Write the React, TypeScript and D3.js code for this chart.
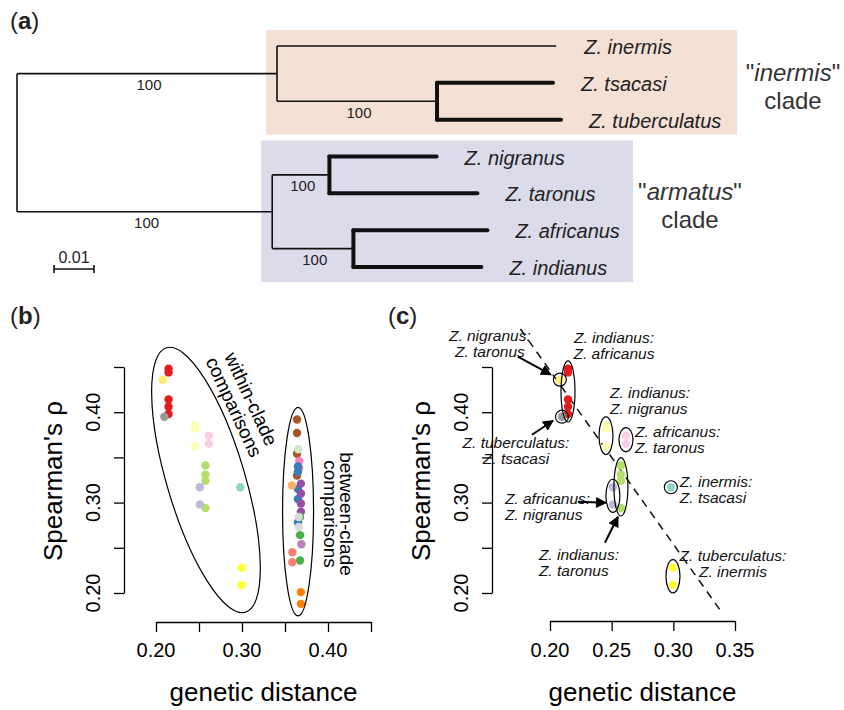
import React, { useEffect, useRef } from 'react';
import * as d3 from 'd3';

const FONT = '"Liberation Sans", Arial, Helvetica, sans-serif';

// ---------- (a) phylogeny, branch lengths read against the 0.01 scale bar ----------
const taxa = ['Z. inermis', 'Z. tsacasi', 'Z. tuberculatus', 'Z. nigranus', 'Z. taronus', 'Z. africanus', 'Z. indianus'];

const tree: any = {
  len: 0,
  children: [
    {
      len: 0.065, support: 100, children: [
        { len: 0.0698, name: 'Z. inermis' },
        { len: 0.040, support: 100, children: [{ len: 0.029, name: 'Z. tsacasi' }, { len: 0.031, name: 'Z. tuberculatus' }] },
      ],
    },
    {
      len: 0.0638, support: 100, children: [
        { len: 0.0143, support: 100, children: [{ len: 0.0268, name: 'Z. nigranus' }, { len: 0.037, name: 'Z. taronus' }] },
        { len: 0.0203, support: 100, children: [{ len: 0.0335, name: 'Z. africanus' }, { len: 0.032, name: 'Z. indianus' }] },
      ],
    },
  ],
};

const cladeNames = ['inermis', 'armatus'];
const cladeFills = ['#f5e0d6', '#dcdbea'];

// ---------- (b)/(c) within-clade comparisons ----------
const withinPairs = [
  ['Z. nigranus:', 'Z. taronus'],
  ['Z. indianus:', 'Z. africanus'],
  ['Z. tuberculatus:', 'Z. tsacasi'],
  ['Z. indianus:', 'Z. nigranus'],
  ['Z. africanus:', 'Z. taronus'],
  ['Z. indianus:', 'Z. taronus'],
  ['Z. africanus:', 'Z. nigranus'],
  ['Z. inermis:', 'Z. tsacasi'],
  ['Z. tuberculatus:', 'Z. inermis'],
];
const withinDist = [0.208, 0.2146, 0.2097, 0.2454, 0.2616, 0.2575, 0.251, 0.298, 0.2997];
const withinColors = ['#ffed6f', '#e41a1c', '#999999', '#ffffb3', '#fccde5', '#b3de69', '#bebada', '#8dd3c7', '#ffff33'];
const withinRho = [
  [0.436],
  [0.448, 0.444, 0.414, 0.406, 0.398],
  [0.395],
  [0.386, 0.382, 0.362],
  [0.374, 0.365],
  [0.341, 0.331, 0.324, 0.294],
  [0.317, 0.298],
  [0.317],
  [0.228, 0.209],
];

// ---------- (b) between-clade comparisons ----------
const betweenDist = [0.364, 0.3655, 0.3665, 0.365, 0.358, 0.3685, 0.3675, 0.366, 0.369, 0.3585, 0.3685];
const betweenColors = ['#a65628', '#ccebc5', '#f781bf', '#377eb8', '#fdb462', '#984ea3', '#4daf4a', '#d9d9d9', '#bc80bd', '#fb8072', '#ff7f00'];
const betweenRho = [
  [0.392, 0.377, 0.354, 0.330],
  [0.359],
  [0.346, 0.338],
  [0.340, 0.334, 0.315, 0.304, 0.278],
  [0.319],
  [0.321, 0.310, 0.299, 0.290],
  [0.284, 0.264, 0.236],
  [0.284, 0.273],
  [0.254],
  [0.245, 0.234],
  [0.201, 0.188],
];

const rhoTicks = [0.2, 0.25, 0.3, 0.35, 0.4, 0.45];
const rhoLabels = [0.2, 0.3, 0.4];
const distTicksB = [0.2, 0.25, 0.3, 0.35, 0.4, 0.45];
const distLabelsB = [0.2, 0.3, 0.4];
const distTicksC = [0.2, 0.25, 0.3, 0.35];

// regression line in (c)
const fitIntercept = 0.83;
const fitSlope = -1.92;
const fitRange = [0.176, 0.34];

// label placement in (c), offsets from each pair's centre
const pairAnnot: any[] = [
  { dx: -70, dy: -44, anchor: 'middle', arrow: [-42, -23, -9, -5] },
  { dx: 46, dy: -54, anchor: 'middle' },
  { dx: -46, dy: 26, anchor: 'middle', arrow: [-30, 18, -9, 4] },
  { dx: 4, dy: -43, anchor: 'start' },
  { dx: 9, dy: -8, anchor: 'start' },
  { dx: -82, dy: 68, anchor: 'start', arrow: [-16, 56, -3, 30] },
  { dx: -108, dy: 3, anchor: 'start', arrow: [-35, 6, -7, 7] },
  { dx: 9, dy: -6, anchor: 'start' },
  { dx: 60, dy: -21, anchor: 'middle' },
];

const fmt = d3.format('.2f');

function panelLabel(svg: any, x: number, y: number, letter: string) {
  const t = svg.append('text').attr('x', x).attr('y', y)
    .style('font-family', FONT).style('font-size', '24px').style('fill', '#222');
  t.append('tspan').text('(');
  t.append('tspan').style('font-weight', 'bold').text(letter);
  t.append('tspan').text(')');
}

function drawTree(svg: any) {
  const leafY = d3.scalePoint<string>().domain(taxa).range([46, 267]);
  const bx = d3.scaleLinear().domain([0, 0.01]).range([17, 57]);

  const layout = (node: any, x0: number) => {
    node.x = x0 + node.len;
    if (node.children) {
      node.children.forEach((c: any) => layout(c, node.x));
      node.y = d3.mean(node.children, (c: any) => c.y);
    } else {
      node.y = leafY(node.name);
    }
  };
  layout(tree, 0);

  const leaves = (n: any): any[] => (n.children ? n.children.flatMap(leaves) : [n]);

  // clade boxes
  const rightEdges = [737, 633];
  tree.children.forEach((clade: any, i: number) => {
    const ys = leaves(clade).map((l: any) => l.y);
    svg.append('rect')
      .attr('x', bx(clade.x) - 11)
      .attr('y', d3.min(ys)! - 16)
      .attr('width', rightEdges[i] - bx(clade.x) + 11)
      .attr('height', d3.max(ys)! - d3.min(ys)! + 31)
      .style('fill', cladeFills[i]);
  });

  const g = svg.append('g').style('stroke', '#111').style('fill', 'none');
  const walk = (node: any) => {
    if (!node.children) return;
    const thick = node.children.every((c: any) => !c.children);
    const w = thick ? 4 : 1.6;
    g.append('line')
      .attr('x1', bx(node.x)).attr('x2', bx(node.x))
      .attr('y1', node.children[0].y).attr('y2', node.children[node.children.length - 1].y)
      .style('stroke-width', w).style('stroke-linecap', thick ? 'round' : 'butt');
    node.children.forEach((c: any) => {
      g.append('line')
        .attr('x1', bx(node.x)).attr('x2', bx(c.x))
        .attr('y1', c.y).attr('y2', c.y)
        .style('stroke-width', w).style('stroke-linecap', thick ? 'round' : 'butt');
      if (c.support) {
        svg.append('text')
          .attr('x', (bx(node.x) + bx(c.x)) / 2 + 2).attr('y', c.y + 11)
          .attr('text-anchor', 'middle').attr('dominant-baseline', 'central')
          .style('font-family', FONT).style('font-size', '15px').style('fill', '#222')
          .text(c.support);
      }
      if (!c.children) {
        svg.append('text')
          .attr('x', bx(c.x) + 28).attr('y', c.y + 1)
          .attr('dominant-baseline', 'central')
          .style('font-family', FONT).style('font-size', '20px').style('font-style', 'italic').style('fill', '#222')
          .text(c.name);
      }
      walk(c);
    });
  };
  walk(tree);

  // clade names
  const cladePos = [[793, 72, 100], [690, 191, 219]];
  cladeNames.forEach((name, i) => {
    const [cx, y1, y2] = cladePos[i];
    const t = svg.append('text').attr('x', cx).attr('y', y1).attr('text-anchor', 'middle')
      .attr('dominant-baseline', 'central')
      .style('font-family', FONT).style('font-size', '24px').style('fill', '#333');
    t.append('tspan').text('"');
    t.append('tspan').style('font-style', 'italic').text(name);
    t.append('tspan').text('"');
    svg.append('text').attr('x', cx).attr('y', y2).attr('text-anchor', 'middle')
      .attr('dominant-baseline', 'central')
      .style('font-family', FONT).style('font-size', '24px').style('fill', '#333').text('clade');
  });

  // scale bar
  const sx0 = 54, sy = 269;
  const sw = bx(0.01) - bx(0);
  const sb = svg.append('g').style('stroke', '#111').style('stroke-width', 1.6);
  sb.append('line').attr('x1', sx0).attr('x2', sx0 + sw).attr('y1', sy).attr('y2', sy);
  sb.append('line').attr('x1', sx0).attr('x2', sx0).attr('y1', sy - 4).attr('y2', sy + 4);
  sb.append('line').attr('x1', sx0 + sw).attr('x2', sx0 + sw).attr('y1', sy - 4).attr('y2', sy + 4);
  svg.append('text').attr('x', sx0 + sw / 2).attr('y', 263).attr('text-anchor', 'middle')
    .style('font-family', FONT).style('font-size', '16px').style('fill', '#222').text('0.01');

  panelLabel(svg, 10, 29, 'a');
}

function axes(svg: any, x: any, y: any, xTicks: number[], xLabels: number[], xAxisY: number, yAxisX: number) {
  const style = (a: any) => {
    a.selectAll('path, line').attr('stroke', '#000').attr('stroke-width', 1.3);
  };
  svg.append('g').attr('transform', `translate(0,${xAxisY})`)
    .call(d3.axisBottom(x).tickValues(xTicks).tickSize(10).tickSizeOuter(0).tickFormat(() => ''))
    .call(style);
  svg.append('g').attr('transform', `translate(${yAxisX},0)`)
    .call(d3.axisLeft(y).tickValues(rhoTicks).tickSize(10).tickSizeOuter(0).tickFormat(() => ''))
    .call(style);

  xLabels.forEach((v) => {
    svg.append('text').attr('x', x(v)).attr('y', 657).attr('text-anchor', 'middle')
      .style('font-family', FONT).style('font-size', '20px').text(fmt(v));
  });
  rhoLabels.forEach((v) => {
    svg.append('text').attr('transform', `translate(${yAxisX - 24},${y(v)}) rotate(-90)`)
      .attr('text-anchor', 'middle')
      .style('font-family', FONT).style('font-size', '20px').text(fmt(v));
  });

  const xr = x.range();
  svg.append('text').attr('x', (xr[0] + xr[1]) / 2).attr('y', 701)
    .attr('text-anchor', 'middle')
    .style('font-family', FONT).style('font-size', '26px').text('genetic distance');
  svg.append('text').attr('transform', `translate(${yAxisX - 62},481) rotate(-90)`)
    .attr('text-anchor', 'middle')
    .style('font-family', FONT).style('font-size', '26px').text("Spearman's ρ");
}

function drawPanelB(svg: any) {
  const x = d3.scaleLinear().domain([0.2, 0.45]).range([156, 371]);
  const y = d3.scaleLinear().domain([0.2, 0.45]).range([593, 367]);

  axes(svg, x, y, distTicksB, distLabelsB, 622, 124);

  const pts = svg.append('g');
  withinRho.forEach((rs, i) => rs.forEach((r) => {
    pts.append('circle').attr('cx', x(withinDist[i])).attr('cy', y(r)).attr('r', 4.2).style('fill', withinColors[i]);
  }));
  betweenRho.forEach((rs, i) => rs.forEach((r) => {
    pts.append('circle').attr('cx', x(betweenDist[i])).attr('cy', y(r)).attr('r', 4.2).style('fill', betweenColors[i]);
  }));

  // within-clade ellipse
  svg.append('ellipse')
    .attr('transform', `translate(${x(0.2581)},${y(0.325)}) rotate(73.4)`)
    .attr('rx', 138).attr('ry', 39)
    .style('fill', 'none').style('stroke', '#000').style('stroke-width', 1.2);

  const allB = betweenRho.flat();
  const bMid = (d3.min(allB)! + d3.max(allB)!) / 2;
  svg.append('ellipse')
    .attr('cx', x(d3.mean(betweenDist)!)).attr('cy', y(bMid))
    .attr('rx', 15.5).attr('ry', (y(d3.min(allB)!) - y(d3.max(allB)!)) / 2 + 12)
    .style('fill', 'none').style('stroke', '#000').style('stroke-width', 1.2);

  const note = (tx: number, ty: number, angle: number, lines: string[], gap: number) => {
    const t = svg.append('g').attr('transform', `translate(${tx},${ty}) rotate(${angle})`);
    lines.forEach((l, i) => {
      t.append('text').attr('x', 0).attr('y', i * gap).attr('text-anchor', 'middle')
        .attr('dominant-baseline', 'central')
        .style('font-family', FONT).style('font-size', '19px').text(l);
    });
  };
  note(251, 399, 65, ['within-clade', 'comparisons'], 19);
  note(346, 514, 90, ['between-clade', 'comparisons'], 16);

  panelLabel(svg, 10, 324, 'b');
}

function drawPanelC(svg: any) {
  const x = d3.scaleLinear().domain([0.2, 0.35]).range([550, 735]);
  const y = d3.scaleLinear().domain([0.2, 0.45]).range([593, 367]);

  axes(svg, x, y, distTicksC, distTicksC, 621, 492);

  // regression line
  const fit = (d: number) => fitIntercept + fitSlope * d;
  svg.append('path')
    .attr('d', d3.line<number>().x((d) => x(d)).y((d) => y(fit(d)))(fitRange))
    .style('fill', 'none').style('stroke', '#111').style('stroke-width', 1.5).style('stroke-dasharray', '8,6');

  svg.append('defs').append('marker')
    .attr('id', 'arrowhead').attr('viewBox', '0 0 10 10').attr('refX', 9).attr('refY', 5)
    .attr('markerWidth', 5.5).attr('markerHeight', 5.5).attr('markerUnits', 'strokeWidth')
    .attr('orient', 'auto')
    .append('path').attr('d', 'M0,0L10,5L0,10z').style('fill', '#000');

  withinRho.forEach((rs, i) => {
    const cx = x(withinDist[i]);
    rs.forEach((r) => {
      svg.append('circle').attr('cx', cx).attr('cy', y(r)).attr('r', 4.2).style('fill', withinColors[i]);
    });
  });

  withinRho.forEach((rs, i) => {
    const cx = x(withinDist[i]);
    const top = y(d3.max(rs)!);
    const bot = y(d3.min(rs)!);
    const cy = (top + bot) / 2;
    const ring = svg.append('ellipse').attr('cx', cx).attr('cy', cy)
      .style('fill', 'none').style('stroke', '#000').style('stroke-width', 1.2);
    if (rs.length === 1) ring.attr('rx', 6.5).attr('ry', 6.5);
    else ring.attr('rx', 7).attr('ry', (bot - top) / 2 + 8);

    const a = pairAnnot[i];
    withinPairs[i].forEach((line, k) => {
      svg.append('text').attr('x', cx + a.dx).attr('y', cy + a.dy + k * 16)
        .attr('text-anchor', a.anchor).attr('dominant-baseline', 'central')
        .style('font-family', FONT).style('font-size', '15.5px').style('font-style', 'italic').style('fill', '#111')
        .text(line);
    });
    if (a.arrow) {
      svg.append('line')
        .attr('x1', cx + a.arrow[0]).attr('y1', cy + a.arrow[1])
        .attr('x2', cx + a.arrow[2]).attr('y2', cy + a.arrow[3])
        .style('stroke', '#000').style('stroke-width', 2)
        .attr('marker-end', 'url(#arrowhead)');
    }
  });

  panelLabel(svg, 388, 324, 'c');
}

export default function App() {
  const ref = useRef<SVGSVGElement>(null);

  useEffect(() => {
    const svg = d3.select(ref.current);
    svg.selectAll('*').remove();
    drawTree(svg);
    drawPanelB(svg);
    drawPanelC(svg);
  }, []);

  return (
    <svg
      ref={ref}
      width={844}
      height={710}
      style={{ position: 'absolute', left: 0, top: 0, background: '#fff' }}
    />
  );
}
